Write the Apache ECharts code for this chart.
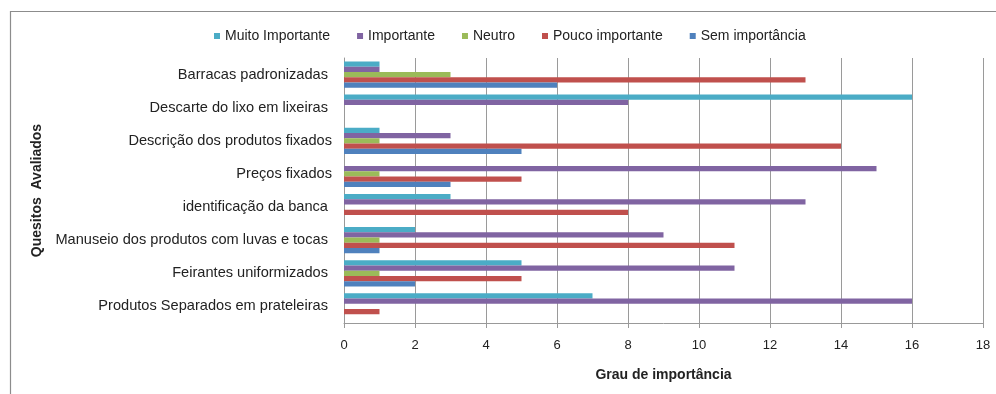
<!DOCTYPE html>
<html>
	<head>
		<meta charset="utf-8" />
		<title>Grau de importância</title>
		<script src="https://cdn.jsdelivr.net/npm/echarts@6/dist/echarts.min.js"></script>
		<style>
			html, body { margin: 0; padding: 0; background: #fff; }
			#myChart { width: 996px; height: 394px; }
		</style>
	</head>
	<body>
		<div id="myChart"></div>
	</body>
	<script type="text/javascript">
	// quesitos, de cima para baixo
	var quesitos = ['Barracas padronizadas ', 'Descarte do lixo em lixeiras ', 'Descrição dos produtos fixados',
		'Preços fixados', 'identificação da banca ', 'Manuseio dos produtos com luvas e tocas ',
		'Feirantes uniformizados ', 'Produtos Separados em prateleiras '];
	var muitoImportante = [1, 16, 1, 0, 3, 2, 5, 7];
	var importante = [1, 8, 3, 15, 13, 9, 11, 16];
	var neutro = [3, 0, 1, 1, 0, 1, 1, 0];
	var poucoImportante = [13, 0, 14, 5, 8, 11, 5, 1];
	var semImportancia = [6, 0, 5, 3, 0, 1, 2, 0];
	var nomes = ['Muito Importante', 'Importante', 'Neutro', 'Pouco importante', 'Sem importância'];
	var cores = ['#4BACC6', '#8064A2', '#9BBB59', '#C0504D', '#4F81BD'];
	var valores = [muitoImportante, importante, neutro, poucoImportante, semImportancia];

	var fonte = 'Arial, "Liberation Sans", sans-serif';
	var myChart = echarts.init(document.getElementById('myChart'));

	var series = [];
	for (var i = 0; i < nomes.length; i++) {
		series.push({
			name: nomes[i],
			type: 'bar',
			data: valores[i],
			itemStyle: { color: cores[i] },
			barGap: '0%',
			barCategoryGap: '21%'
		});
	}

	var option = {
		animation: false,
		color: cores,
		textStyle: { fontFamily: fonte },
		graphic: [{
			type: 'rect',
			left: 8, top: 9,
			shape: { width: 1100, height: 500 },
			style: { fill: 'none', stroke: '#8c8c8c', lineWidth: 1.2 },
			silent: true
		}],
		legend: {
			data: nomes,
			left: 209,
			top: 24,
			icon: 'rect',
			itemWidth: 6,
			itemHeight: 6,
			itemGap: 27,
			textStyle: { fontSize: 14, color: '#222', fontFamily: fonte }
		},
		grid: { left: 344, right: 13, top: 58, bottom: 71 },
		xAxis: {
			type: 'value',
			min: 0, max: 18, interval: 2,
			name: 'Grau de importância',
			nameLocation: 'middle',
			nameGap: 45,
			nameTextStyle: { fontSize: 14, fontWeight: 'bold', color: '#222', fontFamily: fonte },
			axisLine: { show: true, lineStyle: { color: '#999', width: 1 } },
			axisTick: { show: true, length: 5, lineStyle: { color: '#999' } },
			axisLabel: { fontSize: 13, color: '#222', margin: 16, fontFamily: fonte },
			splitLine: { show: true, lineStyle: { color: '#9a9a9a', width: 1 } }
		},
		yAxis: {
			type: 'category',
			inverse: true,
			data: quesitos,
			name: 'Quesitos  Avaliados',
			nameLocation: 'middle',
			nameGap: 300,
			nameRotate: 90,
			nameTextStyle: { fontSize: 14, fontWeight: 'bold', color: '#222', fontFamily: fonte },
			axisLine: { show: true, lineStyle: { color: '#999' } },
			axisTick: { show: false },
			axisLabel: { fontSize: 14.6, color: '#222', margin: 12, fontFamily: fonte }
		},
		series: series
	};
	myChart.setOption(option);
	</script>
</html>
